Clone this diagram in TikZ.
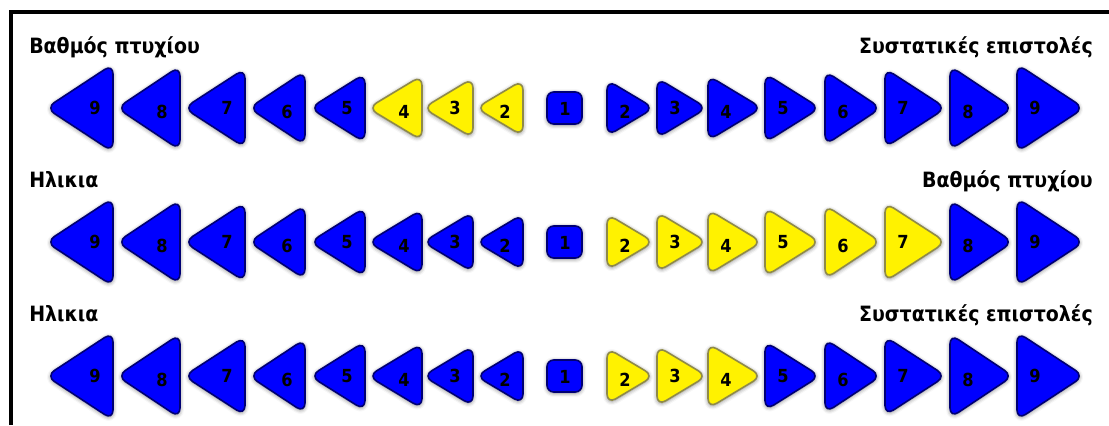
\documentclass[tikz,border=0pt]{standalone}
\usepackage{fontspec}
\usetikzlibrary{shadows.blur}
\newfontfamily\greekbold{DejaVu Sans Condensed}
\newcommand{\labelfont}{\greekbold\bfseries\fontsize{15.8}{18}\selectfont}
\newcommand{\digitfont}{\greekbold\bfseries\fontsize{13.5}{14}\selectfont}

\begin{document}
\begin{tikzpicture}[x=0.75pt,y=-0.75pt,
    bluebox/.style={fill=blue,draw=blue!45!black,line width=1.2pt,rounded corners=7.5pt,
      blur shadow={shadow xshift=0pt,shadow yshift=-0.8pt,shadow blur radius=3pt,shadow opacity=50}},
    yellowbox/.style={bluebox,fill=yellow,draw=yellow!50!black},
    digit/.style={font=\digitfont,text=black,inner sep=0pt},
    rowlabel/.style={font=\labelfont,inner sep=0pt}]
  \useasboundingbox (0,0) rectangle (1109,425);
  % frame
  \draw[line width=2.7pt] (11,425) -- (11,12) -- (1109,12);
  % three scales
  \foreach \row/\yc/\nleft/\nright/\lt/\rt in {1/108/4/1/{Βαθμός πτυχίου}/{Συστατικές επιστολές},
      2/242/1/7/Ηλικια/{Βαθμός πτυχίου},
      3/376/1/4/Ηλικια/{Συστατικές επιστολές}}{
    \node[rowlabel,anchor=base west] (lname\row) at (29,\yc-55) {\lt};
    \node[rowlabel,anchor=base east] (rname\row) at (1093,\yc-55) {\rt};
    \draw[bluebox,rounded corners=5pt] (547,\yc-16) rectangle (582,\yc+16);
    \node[digit] (one\row) at (565,\yc+1) {1};
    \foreach \k/\xl/\xr/\h in {9/51/113/80,8/122/180/76,7/189/245/71,6/254/305/66,
        5/315/365/61,4/373/422/57,3/428/473/52,2/481/523/48}{
      \pgfmathsetmacro\dy{isodd(\k)?0:4}
      \ifnum\k>\nleft\def\sty{bluebox}\else\def\sty{yellowbox}\fi
      \draw[\sty] (\xr,\yc-\h/2-4) -- (\xl-5,\yc) -- (\xr,\yc+\h/2+4) -- cycle;
      \node[digit] (left\k-\row) at (\xr-18,\yc+\dy) {\k};
      \ifnum\k>\nright\def\sty{bluebox}\else\def\sty{yellowbox}\fi
      \draw[\sty] (1130-\xr,\yc-\h/2-4) -- (1135-\xl,\yc) -- (1130-\xr,\yc+\h/2+4) -- cycle;
      \node[digit] (right\k-\row) at (1148-\xr,\yc+\dy) {\k};
    }
  }
\end{tikzpicture}
\end{document}
